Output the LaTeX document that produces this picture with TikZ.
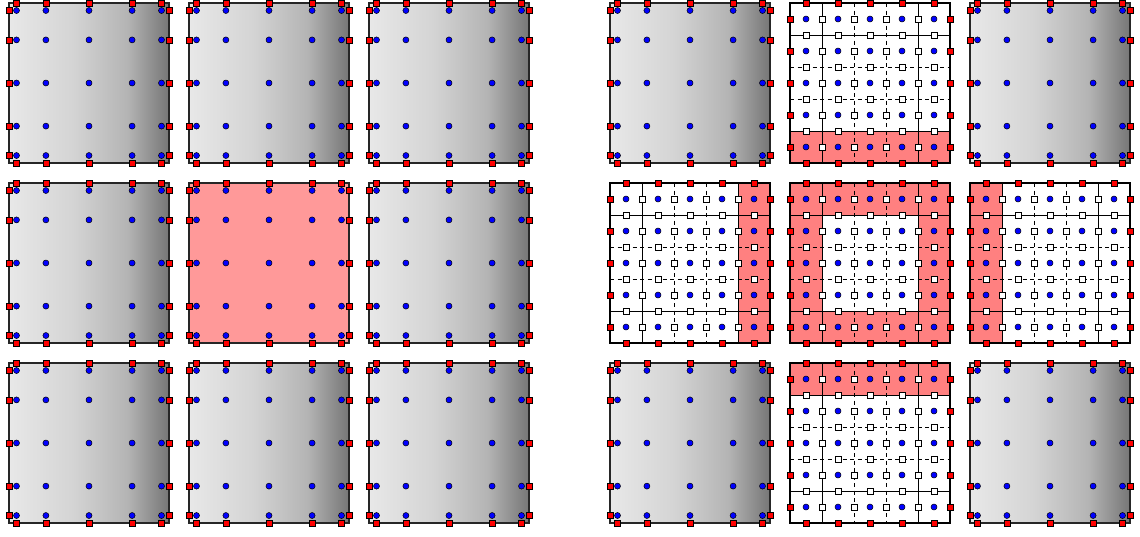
\documentclass[tikz,border=0pt]{standalone}
\definecolor{gA}{RGB}{232,232,232}
\definecolor{gB}{RGB}{212,212,212}
\definecolor{gC}{RGB}{180,180,180}
\definecolor{gD}{RGB}{118,118,118}
\definecolor{pinkA}{RGB}{255,153,153}
\definecolor{pinkB}{RGB}{255,128,128}
\pgfdeclarehorizontalshading{grayfade}{100bp}{color(0bp)=(gA); color(25bp)=(gA); color(45bp)=(gB); color(62bp)=(gC); color(75bp)=(gD); color(100bp)=(gD)}
\tikzset{
  outer/.style={draw=black!85, line width=1.3pt},
  gridsolid/.style={draw=black, line width=0.8pt},
  griddash/.style={draw=black, line width=0.8pt, dash pattern=on 4pt off 3.5pt},
  redsq/.style={draw=black, fill=red, line width=0.6pt},
  whitesq/.style={draw=black, fill=white, line width=0.6pt},
  bluedot/.style={draw=black, fill=blue, line width=0.5pt},
  grayfill/.style={shading=grayfade},
  pinkfill/.style={fill=pinkA}
}
\newcommand\gaussbox[3]{%
  \begin{scope}[shift={(#1,#2)}]
    \path[#3] (0,0) rectangle (160,160);
    \draw[outer] (0,0) rectangle (160,160);
    \foreach \a in {7.5,36.9,80,123.1,152.5}{
      \foreach \b in {7.5,36.9,80,123.1,152.5}{
        \filldraw[bluedot] (\a,\b) circle[radius=3];
      }
      \filldraw[redsq] (\a-3,-3) rectangle ++(6,6);
      \filldraw[redsq] (\a-3,157) rectangle ++(6,6);
      \filldraw[redsq] (-3,\a-3) rectangle ++(6,6);
      \filldraw[redsq] (157,\a-3) rectangle ++(6,6);
    }
  \end{scope}}
\newcommand\subbox[3]{%
  \begin{scope}[shift={(#1,#2)}]
    \fill[white] (0,0) rectangle (160,160);
    #3
    \draw[gridsolid] (32,0)--(32,160) (128,0)--(128,160) (0,32)--(160,32) (0,128)--(160,128);
    \draw[griddash] (64,0)--(64,160) (96,0)--(96,160) (0,64)--(160,64) (0,96)--(160,96);
    \draw[outer,draw=black,line width=1.1pt] (0,0) rectangle (160,160);
    \foreach \a in {16,48,80,112,144}{
      \foreach \b in {16,48,80,112,144}{
        \filldraw[bluedot] (\a,\b) circle[radius=3];
      }
      \foreach \k in {32,64,96,128}{
        \filldraw[whitesq] (\k-3,\a-3) rectangle ++(6,6);
        \filldraw[whitesq] (\a-3,\k-3) rectangle ++(6,6);
      }
      \filldraw[redsq] (\a-3,-3) rectangle ++(6,6);
      \filldraw[redsq] (\a-3,157) rectangle ++(6,6);
      \filldraw[redsq] (-3,\a-3) rectangle ++(6,6);
      \filldraw[redsq] (157,\a-3) rectangle ++(6,6);
    }
  \end{scope}}
\begin{document}
\begin{tikzpicture}[x=1pt,y=-1pt]
  \useasboundingbox (0,0) rectangle (1140,536);
  % left grid
  \gaussbox{9}{3}{grayfill}
  \gaussbox{189}{3}{grayfill}
  \gaussbox{369}{3}{grayfill}
  \gaussbox{9}{183}{grayfill}
  \gaussbox{189}{183}{pinkfill}
  \gaussbox{369}{183}{grayfill}
  \gaussbox{9}{363}{grayfill}
  \gaussbox{189}{363}{grayfill}
  \gaussbox{369}{363}{grayfill}
  % right grid
  \gaussbox{610}{3}{grayfill}
  \subbox{790}{3}{\fill[pinkB] (0,128) rectangle (160,160);}
  \gaussbox{970}{3}{grayfill}
  \subbox{610}{183}{\fill[pinkB] (128,0) rectangle (160,160);}
  \subbox{790}{183}{\fill[pinkB] (0,0) rectangle (160,160); \fill[white] (32,32) rectangle (128,128);}
  \subbox{970}{183}{\fill[pinkB] (0,0) rectangle (32,160);}
  \gaussbox{610}{363}{grayfill}
  \subbox{790}{363}{\fill[pinkB] (0,0) rectangle (160,32);}
  \gaussbox{970}{363}{grayfill}
\end{tikzpicture}
\end{document}
